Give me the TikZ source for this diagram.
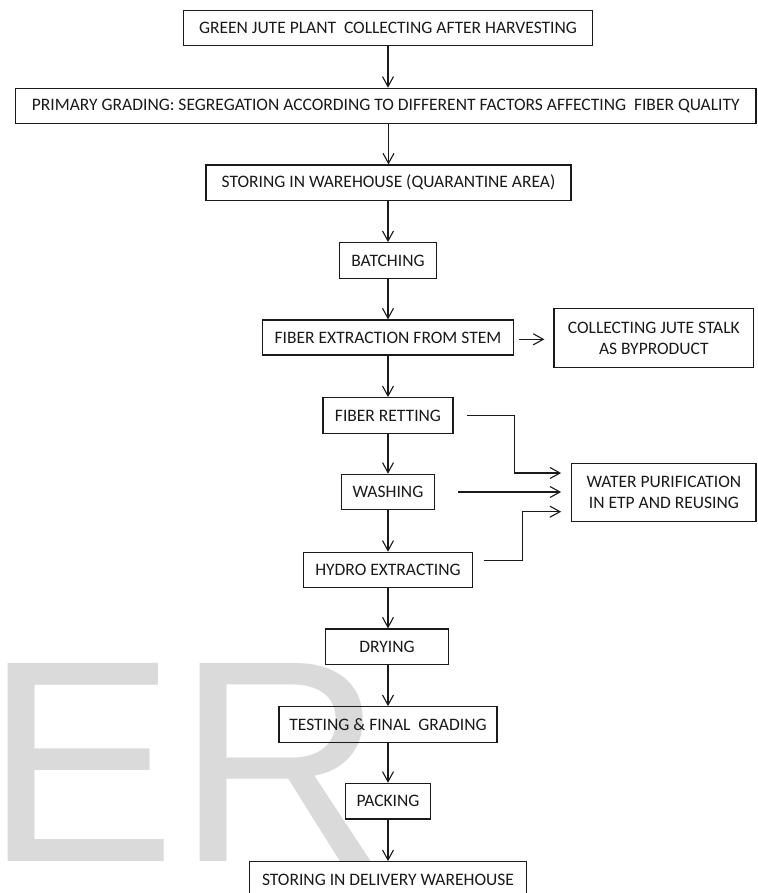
\documentclass[tikz,border=0pt]{standalone}
\usepackage{fontspec}
\setmainfont{Carlito}
\newfontfamily\wmfont{Liberation Sans}
\usetikzlibrary{arrows.meta}
\definecolor{wmgray}{HTML}{DADADA}
\definecolor{ink}{HTML}{1A1A1A}
\tikzset{
  box/.style={draw=ink, line width=1.2pt, inner sep=0pt, text=ink,
    font=\fontsize{17.5}{21}\selectfont, align=center},
  link/.style={draw=ink, line width=1.1pt,
    -{Straight Barb[length=10pt,width=11pt,line width=1.1pt]}},
  wm/.style={anchor=base west, inner sep=0pt, text=wmgray,
    font=\wmfont\fontsize{288}{288}\selectfont},
}
\begin{document}
\begin{tikzpicture}[x=1pt,y=-1pt]
\clip (0,0) rectangle (757,893);
\fill[white] (0,0) rectangle (757,893);
\node[wm] (wmark) at (-16,861.7) {ER};

\node[box, minimum width=408.5pt, minimum height=35pt] (green) at (388,28.2) {GREEN JUTE PLANT\ \ COLLECTING AFTER HARVESTING};
\node[box, minimum width=740.5pt, minimum height=35.4pt] (primary) at (385.75,106) {PRIMARY GRADING: SEGREGATION ACCORDING TO DIFFERENT FACTORS AFFECTING\ \ FIBER QUALITY};
\node[box, minimum width=365pt, minimum height=35.3pt] (storing) at (388.5,182.65) {STORING IN WAREHOUSE (QUARANTINE AREA)};
\node[box, minimum width=97pt, minimum height=35.6pt] (batch) at (388,260.5) {BATCHING};
\node[box, minimum width=250.3pt, minimum height=35pt] (extract) at (388,337.5) {FIBER EXTRACTION FROM STEM};
\node[box, minimum width=199.7pt, minimum height=58.6pt] (collect) at (653.85,338) {COLLECTING JUTE STALK\\AS BYPRODUCT};
\node[box, minimum width=130pt, minimum height=35.6pt] (retting) at (388,415.5) {FIBER RETTING};
\node[box, minimum width=92.6pt, minimum height=35.4pt] (washing) at (388,492) {WASHING};
\node[box, minimum width=184.3pt, minimum height=58.4pt] (water) at (663.85,492.5) {WATER PURIFICATION\\IN ETP AND REUSING};
\node[box, minimum width=169.4pt, minimum height=35.4pt] (hydro) at (388,570) {HYDRO EXTRACTING};
\node[box, minimum width=123.6pt, minimum height=35.3pt] (drying) at (387,646.65) {DRYING};
\node[box, minimum width=218pt, minimum height=35.6pt] (testing) at (388,724.5) {TESTING \& FINAL\ \ GRADING};
\node[box, minimum width=85.7pt, minimum height=35.7pt] (packing) at (388,801.2) {PACKING};
\node[box, minimum width=277.4pt, minimum height=35.4pt] (delivery) at (388,879.4) {STORING IN DELIVERY WAREHOUSE};

\draw[link] (green.south) -- (green.south |- primary.north);
\draw[link] (storing.north |- primary.south) -- (storing.north);
\draw[link] (storing.south -| batch.north) -- (batch.north);
\draw[link] (batch.south) -- (batch.south |- extract.north);
\draw[link] (extract.south) -- (extract.south |- retting.north);
\draw[link] (retting.south) -- (retting.south |- washing.north);
\draw[link] (washing.south) -- (washing.south |- hydro.north);
\draw[link] (hydro.south) -- (hydro.south |- drying.north);
\draw[link] (drying.south -| testing.north) -- (testing.north);
\draw[link] (testing.south) -- (testing.south |- packing.north);
\draw[link] (packing.south) -- (packing.south |- delivery.north);

\coordinate (e0) at ([xshift=5pt,yshift=-1.8pt]extract.east);
\coordinate (e1) at ([xshift=-9pt]collect.west);
\draw[link] (e0) -- (e0 -| e1);

\coordinate (r0) at ([xshift=13pt]retting.east);
\coordinate (r1) at (514.3,415.5);
\coordinate (r2) at ([xshift=-10pt,yshift=19.5pt]water.west);
\draw[link] (r0) -- (r1) |- (r2);

\coordinate (w0) at ([xshift=23pt]washing.east);
\draw[link] (w0) -- (w0 -| r2);

\coordinate (h0) at ([xshift=10.6pt,yshift=9.3pt]hydro.east);
\coordinate (h1) at (522.7,560.7);
\coordinate (h2) at ([xshift=-10pt,yshift=-19.2pt]water.west);
\draw[link] (h0) -- (h1) |- (h2);
\end{tikzpicture}
\end{document}
